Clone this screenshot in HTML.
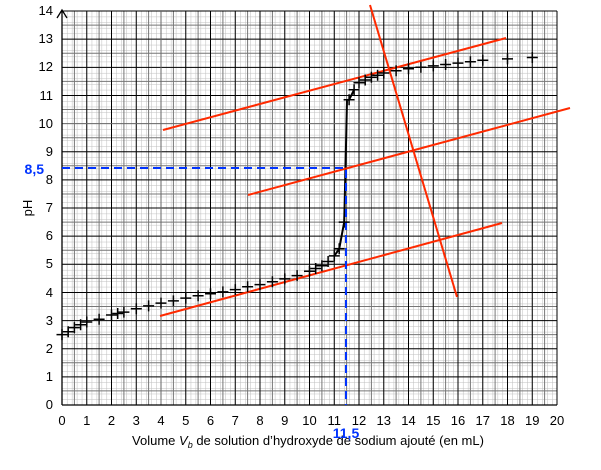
<!DOCTYPE html>
<html><head><meta charset="utf-8"><style>
html,body{margin:0;padding:0;background:#fff}
svg{display:block;font-family:"Liberation Sans",Arial,sans-serif}
</style></head><body>
<svg width="601" height="470" viewBox="0 0 601 470" xmlns="http://www.w3.org/2000/svg">
<defs>
<pattern id="mx" x="62" y="0" width="4.95" height="470" patternUnits="userSpaceOnUse"><line x1="0" y1="0" x2="0" y2="470" stroke="#bdbdbd" stroke-width="1"/></pattern>
<pattern id="my" x="0" y="405" width="601" height="5.628" patternUnits="userSpaceOnUse"><line x1="0" y1="0" x2="601" y2="0" stroke="#bdbdbd" stroke-width="1"/></pattern>
<marker id="c" markerUnits="userSpaceOnUse" markerWidth="14" markerHeight="14" refX="6" refY="6" overflow="visible"><path d="M0.5 6H11.5M6 0.5V11.5" stroke="#000" stroke-width="1.5"/></marker>
</defs>
<rect x="62" y="11" width="495" height="394" fill="url(#mx)"/>
<rect x="62" y="11" width="495" height="394" fill="url(#my)"/>
<g stroke="#777" stroke-width="1">
<path d="M74.4 11V405M99.1 11V405M123.9 11V405M148.6 11V405M173.4 11V405M198.1 11V405M222.9 11V405M247.6 11V405M272.4 11V405M297.1 11V405M321.9 11V405M346.6 11V405M371.4 11V405M396.1 11V405M420.9 11V405M445.6 11V405M470.4 11V405M495.1 11V405M519.9 11V405M544.6 11V405"/>
<path d="M62 390.9H557M62 362.8H557M62 334.6H557M62 306.5H557M62 278.4H557M62 250.2H557M62 222.1H557M62 194H557M62 165.8H557M62 137.7H557M62 109.5H557M62 81.4H557M62 53.3H557M62 25.1H557"/>
</g>
<g stroke="#000" stroke-width="1">
<path d="M86.75 11V405M111.5 11V405M136.25 11V405M185.75 11V405M210.5 11V405M235.25 11V405M260 11V405M284.75 11V405M309.5 11V405M334.25 11V405M359 11V405M383.75 11V405M408.5 11V405M433.25 11V405M458 11V405M482.75 11V405M507.5 11V405M532.25 11V405M557 11V405"/>
<path d="M62 376.86H557M62 348.72H557M62 320.58H557M62 292.44H557M62 264.3H557M62 236.16H557M62 208.02H557M62 179.88H557M62 151.74H557M62 95.46H557M62 67.32H557M62 39.18H557M62 11.04H557"/>
</g>
<path d="M161 11V405M62 123.6H557" stroke="#666" stroke-width="1"/>
<path d="M62 405H557M62 405V10M57 18L62 10L67 18" stroke="#000" stroke-width="1.3" fill="none"/>
<g font-size="13" fill="#000" text-anchor="end">
<text x="53" y="409">0</text><text x="53" y="381">1</text><text x="53" y="353">2</text><text x="53" y="325">3</text><text x="53" y="297">4</text><text x="53" y="268">5</text><text x="53" y="240">6</text><text x="53" y="212">7</text><text x="53" y="184">8</text><text x="53" y="156">9</text><text x="53" y="128">10</text><text x="53" y="100">11</text><text x="53" y="71">12</text><text x="53" y="43">13</text><text x="53" y="15">14</text>
</g>
<g font-size="13" fill="#000" text-anchor="middle">
<text x="62" y="425">0</text><text x="86.75" y="425">1</text><text x="111.5" y="425">2</text><text x="136.25" y="425">3</text><text x="161" y="425">4</text><text x="185.75" y="425">5</text><text x="210.5" y="425">6</text><text x="235.25" y="425">7</text><text x="260" y="425">8</text><text x="284.75" y="425">9</text><text x="309.5" y="425">10</text><text x="334.25" y="425">11</text><text x="359" y="425">12</text><text x="383.75" y="425">13</text><text x="408.5" y="425">14</text><text x="433.25" y="425">15</text><text x="458" y="425">16</text><text x="482.75" y="425">17</text><text x="507.5" y="425">18</text><text x="532.25" y="425">19</text><text x="557" y="425">20</text>
<text x="308" y="445">Volume <tspan font-style="italic">V</tspan><tspan font-style="italic" font-size="9" dy="3">b</tspan><tspan dy="-3"> de solution d’hydroxyde de sodium ajouté (en mL)</tspan></text>
</g>
<text x="0" y="0" font-size="13" transform="translate(32,208) rotate(-90)" text-anchor="middle">pH</text>
<polyline points="334.3,255.9 339.2,248.8 344.2,222.1 345.5,168 347,100 349.1,99.7 354.1,89.8" fill="none" stroke="#000" stroke-width="2"/>
<g stroke="#ff2a00" stroke-width="2" fill="none">
<line x1="163" y1="130" x2="506" y2="38"/>
<line x1="248" y1="195" x2="570" y2="108"/>
<line x1="160" y1="316" x2="502" y2="223"/>
<line x1="370" y1="5" x2="457" y2="297"/>
</g>
<path d="M62 168H346V405" stroke="#0033ff" stroke-width="2" stroke-dasharray="8,5" fill="none"/>
<text x="44" y="174" font-size="14" font-weight="bold" fill="#0033ff" text-anchor="end">8,5</text>
<text x="346" y="438" font-size="14" font-weight="bold" fill="#0033ff" text-anchor="middle">11,5</text>
<polyline fill="none" stroke="none" marker-start="url(#c)" marker-mid="url(#c)" marker-end="url(#c)" points="62,334.6 68.2,331.8 74.4,327.6 80.6,324.8 86.8,322 99.1,319.2 111.5,315 117.7,313.5 123.9,312.1 136.3,308.8 148.6,305.9 161,303.1 173.4,300.9 185.8,298.1 198.1,295.8 210.5,293.8 222.9,291.9 235.3,289.6 247.6,286.8 260,284.6 272.4,281.7 284.8,278.9 297.1,275.6 309.5,271.3 315.7,268.5 321.9,265.7 328.1,261.5 334.3,255.9 339.2,248.8 344.2,222.1 349.1,99.7 354.1,89.8 359,82.8 365.2,80 371.4,77.2 377.6,75.2 383.8,73 396.1,70.7 408.5,68.7 420.9,67.3 433.3,65.9 445.6,64.5 458,63.1 470.4,61.7 482.8,60.3 507.5,58.9 532.3,57.5"/>
</svg>
</body></html>
